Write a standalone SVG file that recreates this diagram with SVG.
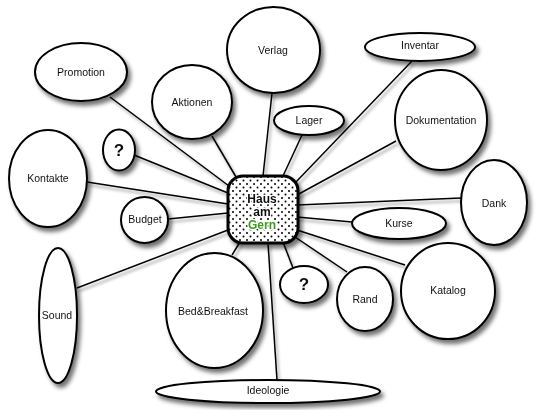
<svg xmlns="http://www.w3.org/2000/svg" width="537" height="414" viewBox="0 0 537 414">
<style>
.n{fill:#fff;stroke:#000;stroke-width:2}
.c line{stroke:#000;stroke-width:1.5}
.t{font-family:"Liberation Sans",Arial,sans-serif;font-size:10.5px;fill:#111;text-anchor:middle;dominant-baseline:central}
.q{font-family:"Liberation Sans",Arial,sans-serif;font-size:17px;font-weight:bold;fill:#111;text-anchor:middle;dominant-baseline:central}
.h{font-family:"Liberation Sans",Arial,sans-serif;font-size:12px;font-weight:bold;text-anchor:middle;stroke:#fff;stroke-width:2.5;paint-order:stroke;stroke-linejoin:round}
</style>
<defs>
<filter id="sh" x="-30%" y="-30%" width="160%" height="160%">
<feDropShadow dx="3" dy="4" stdDeviation="2.2" flood-color="#000" flood-opacity="0.55"/>
</filter>
<filter id="shl" x="-10%" y="-10%" width="120%" height="120%">
<feDropShadow dx="2" dy="3" stdDeviation="1.5" flood-color="#000" flood-opacity="0.4"/>
</filter>
<pattern id="dots" width="7" height="7" patternUnits="userSpaceOnUse">
<rect width="7" height="7" fill="#fff"/>
<circle cx="2" cy="2" r="1" fill="#000"/>
<circle cx="5.5" cy="5.5" r="1" fill="#000"/>
</pattern>
</defs>
<rect width="537" height="414" fill="#fff"/>
<g class="c" id="connectors" filter="url(#shl)">
<line x1="110" y1="97" x2="229" y2="186"/>
<line x1="212" y1="136" x2="236" y2="177"/>
<line x1="272" y1="93" x2="263" y2="176"/>
<line x1="302" y1="135" x2="283" y2="176"/>
<line x1="412" y1="61" x2="295" y2="183"/>
<line x1="396" y1="141" x2="297" y2="195"/>
<line x1="461" y1="198" x2="297" y2="205"/>
<line x1="352" y1="222" x2="297" y2="217"/>
<line x1="405" y1="265" x2="297" y2="230"/>
<line x1="347" y1="272" x2="295" y2="237"/>
<line x1="293" y1="268" x2="283" y2="242"/>
<line x1="277" y1="380" x2="268" y2="243"/>
<line x1="232" y1="255" x2="240" y2="242"/>
<line x1="77" y1="288" x2="228" y2="230"/>
<line x1="168" y1="219" x2="228" y2="213"/>
<line x1="87" y1="182" x2="228" y2="204"/>
<line x1="134" y1="155" x2="228" y2="193"/>
</g>
<g id="promotion" filter="url(#sh)"><ellipse class="n" cx="81" cy="72" rx="46" ry="29"/><text class="t" x="81" y="72">Promotion</text></g>
<g id="aktionen" filter="url(#sh)"><ellipse class="n" cx="192" cy="102" rx="40" ry="37"/><text class="t" x="192" y="102">Aktionen</text></g>
<g id="verlag" filter="url(#sh)"><ellipse class="n" cx="273.5" cy="50" rx="46.5" ry="43"/><text class="t" x="273" y="50">Verlag</text></g>
<g id="lager" filter="url(#sh)"><ellipse class="n" cx="309" cy="120.5" rx="35" ry="14.5"/><text class="t" x="309" y="120">Lager</text></g>
<g id="inventar" filter="url(#sh)"><ellipse class="n" cx="420" cy="47" rx="55" ry="14"/><text class="t" x="420" y="45">Inventar</text></g>
<g id="dokumentation" filter="url(#sh)"><ellipse class="n" cx="441" cy="120" rx="46" ry="50"/><text class="t" x="441" y="120">Dokumentation</text></g>
<g id="dank" filter="url(#sh)"><ellipse class="n" cx="494" cy="202.5" rx="33" ry="42.5"/><text class="t" x="494" y="203">Dank</text></g>
<g id="kurse" filter="url(#sh)"><ellipse class="n" cx="399" cy="223.5" rx="47" ry="15.5"/><text class="t" x="399" y="223">Kurse</text></g>
<g id="katalog" filter="url(#sh)"><ellipse class="n" cx="448" cy="291" rx="47" ry="48"/><text class="t" x="448" y="290">Katalog</text></g>
<g id="rand" filter="url(#sh)"><ellipse class="n" cx="365" cy="299" rx="28" ry="32"/><text class="t" x="365" y="299">Rand</text></g>
<g id="frage2" filter="url(#sh)"><ellipse class="n" cx="304" cy="284.5" rx="24" ry="18.5"/><text class="q" x="304" y="284">?</text></g>
<g id="bedbreakfast" filter="url(#sh)"><ellipse class="n" cx="214.5" cy="310.5" rx="48.5" ry="57.5"/><text class="t" x="213" y="311">Bed&amp;Breakfast</text></g>
<g id="ideologie" filter="url(#sh)"><ellipse class="n" cx="268" cy="391.5" rx="112" ry="11.5"/><text class="t" x="268" y="390">Ideologie</text></g>
<g id="sound" filter="url(#sh)"><ellipse class="n" cx="58" cy="315.5" rx="19" ry="67.5"/><text class="t" x="57" y="315">Sound</text></g>
<g id="budget" filter="url(#sh)"><ellipse class="n" cx="144.5" cy="220" rx="23.5" ry="23"/><text class="t" x="145" y="219">Budget</text></g>
<g id="kontakte" filter="url(#sh)"><ellipse class="n" cx="48" cy="178.5" rx="39" ry="48.5"/><text class="t" x="48" y="178">Kontakte</text></g>
<g id="frage1" filter="url(#sh)"><ellipse class="n" cx="119" cy="150" rx="16" ry="20.5"/><text class="q" x="119" y="150">?</text></g>
<g id="center" filter="url(#sh)">
<rect x="228" y="176" width="70" height="67" rx="15" ry="15" fill="url(#dots)" stroke="#000" stroke-width="3"/>
<text class="h" x="262" y="203" fill="#111">Haus</text>
<text class="h" x="262" y="216" fill="#111">am</text>
<text class="h" x="262" y="229" fill="#3f9a22">Gern</text>
</g>
</svg>
